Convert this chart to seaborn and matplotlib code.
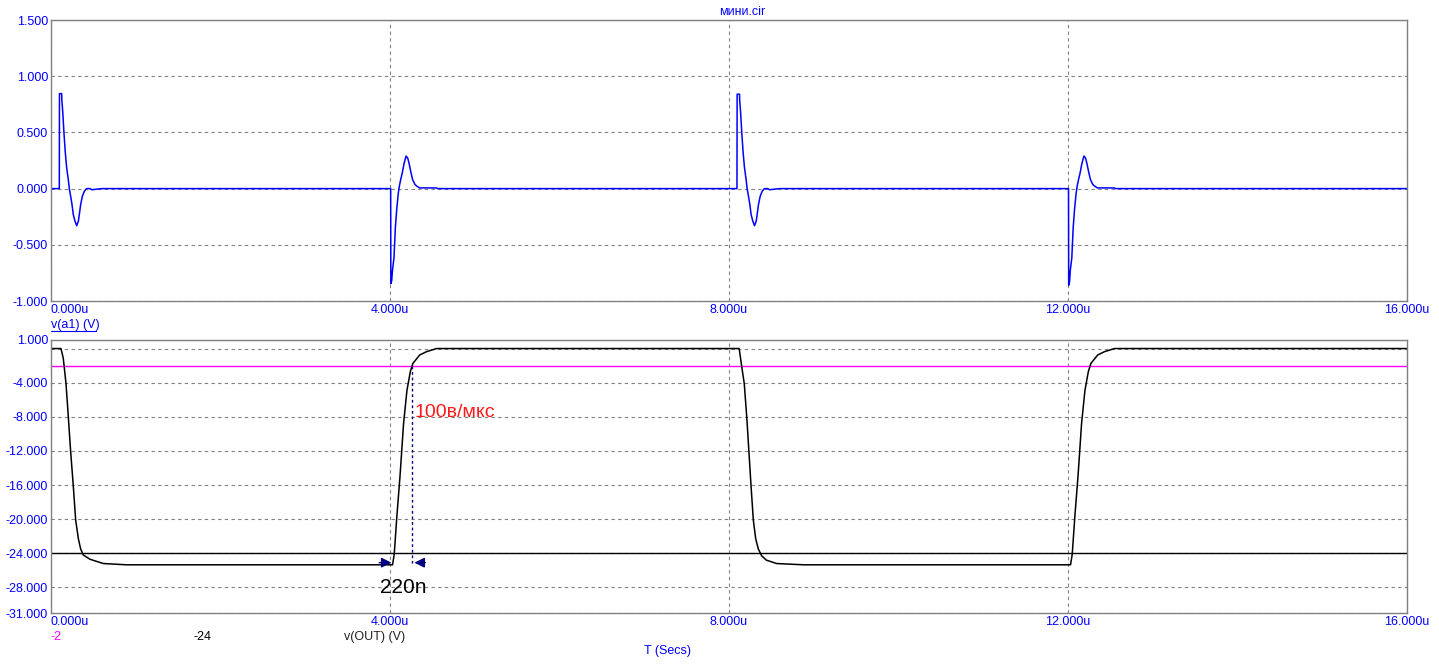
import numpy as np
import pandas as pd
import matplotlib
matplotlib.use("Agg")
import matplotlib.pyplot as plt
from matplotlib.lines import Line2D
import seaborn as sns

# ---- data (time in microseconds) ----
# v(a1), top panel
t_a1 = [0.0, 0.098, 0.100, 0.126, 0.128, 0.138, 0.153, 0.169, 0.185, 0.204, 0.216, 0.232,
        0.248, 0.263, 0.283, 0.303, 0.323, 0.334, 0.350, 0.370, 0.393, 0.420, 0.460, 0.480,
        0.540, 0.600,
        4.008, 4.010, 4.020, 4.030, 4.047, 4.063, 4.079, 4.098, 4.110, 4.126, 4.145, 4.165,
        4.190, 4.210, 4.228, 4.244, 4.267, 4.295, 4.320, 4.350, 4.550, 4.560,
        8.094, 8.096, 8.124, 8.126, 8.136, 8.151, 8.167, 8.183, 8.202, 8.214, 8.230,
        8.246, 8.261, 8.281, 8.301, 8.321, 8.332, 8.348, 8.368, 8.391, 8.418, 8.458, 8.478,
        8.538, 8.600,
        12.006, 12.008, 12.018, 12.028, 12.045, 12.061, 12.077, 12.096, 12.108, 12.124,
        12.143, 12.163, 12.188, 12.208, 12.226, 12.242, 12.265, 12.293, 12.318, 12.348,
        12.548, 12.558,
        16.0]
v_a1 = [0.0, 0.0, 0.845, 0.845, 0.786, 0.690, 0.495, 0.318, 0.184, 0.080, 0.0, -0.068,
        -0.142, -0.231, -0.290, -0.330, -0.290, -0.231, -0.142, -0.068, -0.024, 0.0, 0.0, -0.010,
        -0.005, 0.0,
        0.0, -0.845, -0.820, -0.720, -0.617, -0.350, -0.187, -0.040, 0.020, 0.080, 0.140, 0.220,
        0.290, 0.270, 0.214, 0.154, 0.080, 0.036, 0.020, 0.006, 0.006, 0.0,
        0.0, 0.840, 0.840, 0.786, 0.690, 0.495, 0.318, 0.184, 0.080, 0.0, -0.068,
        -0.142, -0.231, -0.290, -0.330, -0.290, -0.231, -0.142, -0.068, -0.024, 0.0, 0.0, -0.010,
        -0.005, 0.0,
        0.0, -0.860, -0.830, -0.720, -0.617, -0.350, -0.187, -0.040, 0.020, 0.080,
        0.140, 0.220, 0.290, 0.270, 0.214, 0.154, 0.080, 0.036, 0.020, 0.006,
        0.006, 0.0,
        0.0]

# v(OUT), bottom panel
t_out = [0.0, 0.118, 0.145, 0.177, 0.205, 0.232, 0.263, 0.291, 0.323, 0.350, 0.381, 0.460,
         0.617, 0.890,
         4.030, 4.050, 4.080, 4.120, 4.160, 4.200, 4.240, 4.270, 4.350, 4.430, 4.550,
         8.120, 8.150, 8.180, 8.210, 8.235, 8.260, 8.287, 8.315, 8.346, 8.386, 8.440, 8.560,
         8.880,
         12.030, 12.050, 12.080, 12.120, 12.160, 12.200, 12.240, 12.270, 12.350, 12.430, 12.550,
         16.0]
v_out = [0.0, 0.0, -1.15, -4.1, -8.1, -12.1, -16.1, -20.1, -22.3, -23.5, -24.2, -24.7,
         -25.2, -25.35,
         -25.35, -24.1, -19.8, -14.7, -8.8, -4.9, -2.7, -1.75, -0.76, -0.37, 0.0,
         0.0, -2.1, -4.1, -8.1, -12.1, -16.1, -20.1, -22.3, -23.5, -24.3, -24.8, -25.2,
         -25.35,
         -25.35, -24.1, -19.8, -14.7, -8.8, -4.9, -2.7, -1.75, -0.76, -0.37, 0.0,
         0.0]

# constant reference traces
t_span = [0.0, 16.0]
v_ref_a = [-2.0, -2.0]
v_ref_b = [-24.0, -24.0]

x_ticks = [0, 4, 8, 12, 16]
x_labels = ["0.000u", "4.000u", "8.000u", "12.000u", "16.000u"]
top_ticks = [-1.0, -0.5, 0.0, 0.5, 1.0, 1.5]
bot_ticks = [-31, -28, -24, -20, -16, -12, -8, -4, 1]

BLUE = "#0000ff"
GRID = "#808080"
W, H = 1439, 672

sns.set_style("white")
plt.rcParams["font.family"] = ["Liberation Sans", "DejaVu Sans"]

fig = plt.figure(figsize=(W / 100, H / 100), dpi=100)
ax1 = fig.add_axes([51 / W, 1 - 301 / H, (1407 - 51) / W, (301 - 20) / H])
ax2 = fig.add_axes([51 / W, 1 - 613 / H, (1407 - 51) / W, (613 - 340) / H])

df_a1 = pd.DataFrame({"t": t_a1, "v": v_a1})
df_out = pd.DataFrame({"t": t_out, "v": v_out})

sns.lineplot(data=df_a1, x="t", y="v", ax=ax1, color=BLUE, lw=1.1, sort=False, estimator=None)
sns.lineplot(x=t_span, y=v_ref_a, ax=ax2, color="#ff00ff", lw=1.0, sort=False, estimator=None)
sns.lineplot(x=t_span, y=v_ref_b, ax=ax2, color="black", lw=1.0, sort=False, estimator=None)
sns.lineplot(data=df_out, x="t", y="v", ax=ax2, color="black", lw=1.1, sort=False, estimator=None)


def style_axis(ax, yticks, ylim):
    ax.set_xlim(0, 16)
    ax.set_ylim(*ylim)
    ax.set_xlabel("")
    ax.set_ylabel("")
    ax.set_xticks(x_ticks)
    ax.set_xticklabels(x_labels)
    ax.set_yticks(yticks)
    ax.set_yticklabels([f"{y:.3f}" for y in yticks])
    ax.tick_params(length=0, pad=2, labelsize=9, labelcolor=BLUE)
    ax.get_xticklabels()[0].set_ha("left")
    ax.grid(True, which="both", color=GRID, linestyle=(0, (3, 3)), lw=0.8)
    for s in ax.spines.values():
        s.set_color(GRID)
        s.set_linewidth(1.0)
        s.set_visible(True)
        s.set_zorder(5)


style_axis(ax1, top_ticks, (-1.0, 1.5))
style_axis(ax2, bot_ticks, (-31, 1))
# gridline at 0 V without a label
ax2.set_yticks([0], minor=True)
ax2.grid(True, which="minor", axis="y", color=GRID, linestyle=(0, (3, 3)), lw=0.8)

# slew-rate annotation
ax2.plot([4.255, 4.255], [-2.1, -25.1], color="#000080", lw=1.0, linestyle=(0, (2, 2)))
ax2.annotate("", xy=(4.05, -25.1), xytext=(3.84, -25.1),
             arrowprops=dict(arrowstyle="-|>", color="#000080", lw=1.0, mutation_scale=15))
ax2.annotate("", xy=(4.255, -25.1), xytext=(4.45, -25.1),
             arrowprops=dict(arrowstyle="-|>", color="#000080", lw=1.0, mutation_scale=15))
ax2.text(4.29, -7.45, "100в/мкс", color="#ff1a1a", fontsize=14, va="center", ha="left")
ax2.text(3.88, -28.0, "220n", color="black", fontsize=15, va="center", ha="left")

# titles and trace labels
fig.text(742 / W, 1 - 12 / H, "мини.cir", color=BLUE, fontsize=9, ha="center", va="center")
fig.text(51 / W, 1 - 325 / H, "v(a1) (V)", color=BLUE, fontsize=9, ha="left", va="center")
fig.add_artist(Line2D([51 / W, 96 / W], [1 - 331 / H, 1 - 331 / H], color=BLUE, lw=0.8))
fig.text(51 / W, 1 - 637 / H, "-2", color="#ff00ff", fontsize=9, ha="left", va="center")
fig.text(194 / W, 1 - 637 / H, "-24", color="black", fontsize=9, ha="left", va="center")
fig.text(344 / W, 1 - 637 / H, "v(OUT) (V)", color="#202020", fontsize=9, ha="left", va="center")
fig.text(668 / W, 1 - 651 / H, "T (Secs)", color=BLUE, fontsize=9, ha="center", va="center")

fig.savefig("out.png", dpi=100)
